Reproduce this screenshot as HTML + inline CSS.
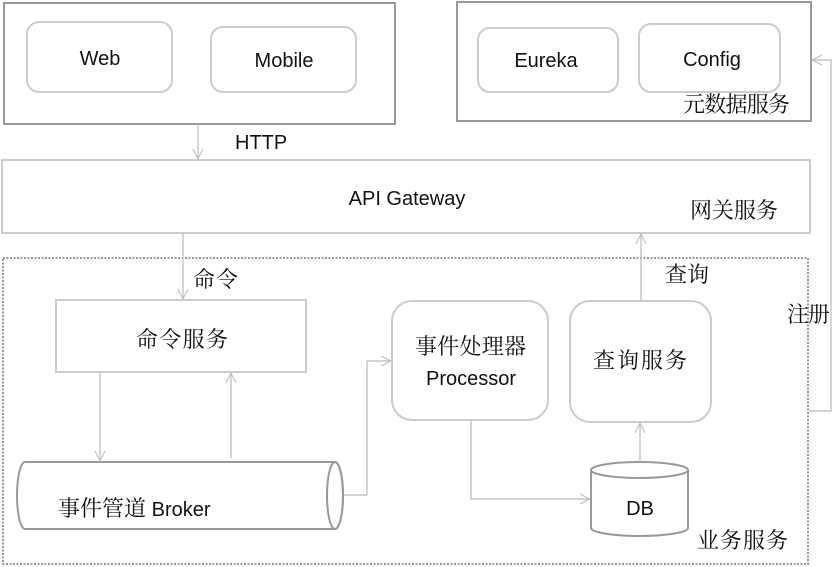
<!DOCTYPE html>
<html><head><meta charset="utf-8"><style>
html,body{margin:0;padding:0;background:#fff;}
svg{display:block;}
text{font-family:"Liberation Sans","Noto Sans CJK SC",sans-serif;font-size:20px;fill:#111;}
.cn{font-family:"Noto Serif CJK SC","Noto Sans CJK SC",serif;font-size:22px;}
</style></head><body>
<svg width="833" height="567" viewBox="0 0 833 567" xmlns="http://www.w3.org/2000/svg">
<defs>
<marker id="a" markerWidth="12" markerHeight="12" refX="11" refY="6" orient="auto" markerUnits="userSpaceOnUse">
<path d="M1,1 L11,6 L1,11" fill="none" stroke="#bbb" stroke-width="1"/>
</marker>
</defs>
<g fill="none">
<rect x="4" y="3" width="391" height="121" stroke="#999" stroke-width="2"/>
<rect x="27" y="22" width="145" height="70" rx="12" stroke="#ccc" stroke-width="2"/>
<rect x="211" y="27" width="145" height="65" rx="12" stroke="#ccc" stroke-width="2"/>
<rect x="457" y="2" width="354" height="119" stroke="#999" stroke-width="2"/>
<rect x="478" y="28" width="140" height="64" rx="12" stroke="#ccc" stroke-width="2"/>
<rect x="639" y="24" width="141" height="68" rx="12" stroke="#ccc" stroke-width="2"/>
<rect x="2" y="160" width="808" height="73" stroke="#ccc" stroke-width="2"/>
<rect x="3" y="258" width="805" height="306" stroke="#999" stroke-width="2" stroke-dasharray="2,1.5"/>
<rect x="56" y="300" width="250" height="72" stroke="#ccc" stroke-width="2"/>
<rect x="392" y="301" width="156" height="119" rx="20" stroke="#ccc" stroke-width="2"/>
<rect x="570" y="301" width="141" height="121" rx="20" stroke="#ccc" stroke-width="2"/>
<path d="M25,462 L335,462 A8,33.5 0 0 1 335,529 L25,529 A8,33.5 0 0 1 25,462 Z" stroke="#999" stroke-width="2" fill="#fff"/>
<ellipse cx="335" cy="495.5" rx="8" ry="33.5" stroke="#999" stroke-width="2"/>
<path d="M591,470 L591,528 A48.5,8 0 0 0 688,528 L688,470" stroke="#999" stroke-width="2" fill="#fff"/>
<ellipse cx="639.5" cy="470" rx="48.5" ry="8" stroke="#999" stroke-width="2" fill="#fff"/>
<g stroke="#bbb" stroke-width="1.2">
<path d="M198,124 L198,159" marker-end="url(#a)"/>
<path d="M183,233 L183,299" marker-end="url(#a)"/>
<path d="M100,372 L100,461" marker-end="url(#a)"/>
<path d="M231,458 L231,373" marker-end="url(#a)"/>
<path d="M344,495 L367,495 L367,361 L391,361" marker-end="url(#a)"/>
<path d="M471,420 L471,499 L590,499" marker-end="url(#a)"/>
<path d="M640,462 L640,423" marker-end="url(#a)"/>
<path d="M641,301 L641,234" marker-end="url(#a)"/>
<path d="M809,411 L831,411 L831,60 L812,60" marker-end="url(#a)"/>
</g>
</g>
<text x="100" y="65" text-anchor="middle">Web</text>
<text x="284" y="67" text-anchor="middle">Mobile</text>
<text x="546" y="67" text-anchor="middle">Eureka</text>
<text x="712" y="66" text-anchor="middle">Config</text>
<text x="683" y="112" class="cn" textLength="107">元数据服务</text>
<text x="235" y="149" font-size="19">HTTP</text>
<text x="407" y="205" text-anchor="middle">API Gateway</text>
<text x="690" y="218" class="cn" textLength="88">网关服务</text>
<text x="193" y="287" class="cn" textLength="45">命令</text>
<text x="136" y="347" class="cn" textLength="92">命令服务</text>
<text x="415" y="354" class="cn" textLength="111">事件处理器</text>
<text x="471" y="385" text-anchor="middle">Processor</text>
<text x="593" y="368" class="cn" font-size="23" textLength="94">查询服务</text>
<text x="665" y="282" class="cn" textLength="44">查询</text>
<text x="787" y="322" class="cn" textLength="43">注册</text>
<text x="58" y="516" class="cn">事件管道 <tspan font-family="Liberation Sans" font-size="20">Broker</tspan></text>
<text x="640" y="515" text-anchor="middle">DB</text>
<text x="697" y="548" class="cn" textLength="91">业务服务</text>
</svg>
</body></html>
